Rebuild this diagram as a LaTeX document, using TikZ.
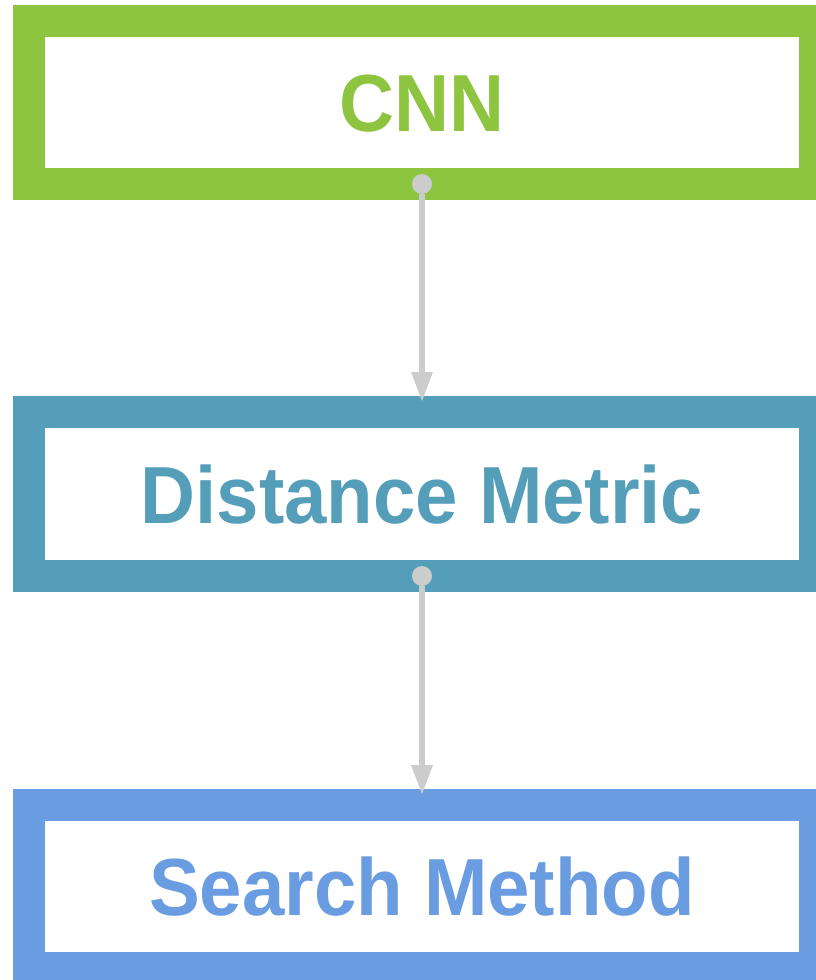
\documentclass[tikz,border=0pt]{standalone}
\usepackage{fontspec}
\setmainfont{Liberation Sans}[FakeStretch=0.94]
\usepackage{tikz}
\usetikzlibrary{arrows.meta,positioning}
\definecolor{cnngreen}{HTML}{8DC540}
\definecolor{metricteal}{HTML}{559EBA}
\definecolor{searchblue}{HTML}{699CE0}
\definecolor{linkgray}{HTML}{CCCCCC}
\tikzset{
    stage/.style={draw, line width=32pt, fill=white, inner sep=0pt, outer sep=0pt,
        minimum width=786pt, minimum height=163pt, text height=58pt, text depth=0pt,
        font=\fontsize{81}{81}\selectfont\bfseries},
    link/.style={color=linkgray, line width=6pt,
        {Circle[length=20pt,line width=0pt]}-{Triangle[length=29pt,width=22pt,line width=0pt]},
        shorten <=-10pt, shorten >=11pt}
}

\begin{document}
\begin{tikzpicture}[x=1pt,y=-1pt]
    \clip (0,0) rectangle (816,980);
    \useasboundingbox (0,0) rectangle (816,980);
    \node[stage,draw=cnngreen,text=cnngreen] at (422,102.5) (cnn) {CNN};
    \node[stage,draw=metricteal,text=metricteal,minimum height=164pt] at (422,494) (metric) {Distance Metric};
    \node[stage,draw=searchblue,text=searchblue] at (422,886.5) (search) {Search Method};
    \path[link]
    (cnn) edge (metric)
    (metric) edge (search)
    ;
\end{tikzpicture}
\end{document}
